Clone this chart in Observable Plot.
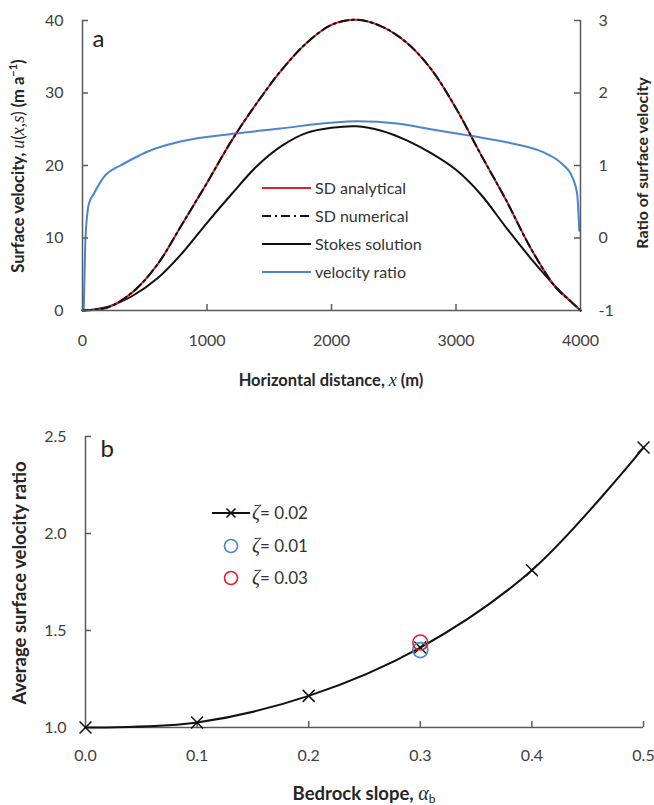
<!DOCTYPE html>
<html><head><meta charset="utf-8">
<script src="https://cdn.jsdelivr.net/npm/d3@7"></script>
<script src="https://cdn.jsdelivr.net/npm/@observablehq/plot@0.6"></script>
<style>
body{margin:0;background:#fff;font-family:Lato,sans-serif}
#wrap{width:654px;height:805px;overflow:hidden}
svg{display:block}
</style></head><body><div id="wrap"></div>
<script>
// ---- Panel a data ----
const distX = [0, 200, 400, 600, 800, 1000, 1200, 1400, 1600, 1800, 2000, 2200, 2400, 2600, 2800, 3000, 3200, 3400, 3600, 3800, 3900, 4000];
const sdU    = [0, 0.4, 2.5, 6.3, 11.9, 17.6, 23.5, 28.6, 33.2, 36.9, 39.4, 40.1, 39.2, 37.0, 33.3, 27.9, 21.5, 15.3, 8.6, 3.2, 1.6, 0];
const sdNumU = [0, 0.4, 2.5, 6.3, 11.9, 17.6, 23.5, 28.6, 33.2, 36.9, 39.4, 40.1, 39.2, 37.0, 33.3, 27.9, 21.5, 15.3, 8.6, 3.2, 1.6, 0];
const stokesU = [0, 0.5, 2.0, 4.4, 7.9, 12.1, 16.1, 19.9, 22.7, 24.5, 25.2, 25.4, 24.8, 23.5, 21.7, 19.4, 16.0, 11.5, 7.2, 3.3, 1.6, 0];
const ratioX = [10, 18, 24, 51, 91, 171, 305, 412, 519, 787, 1229, 1590, 1992, 2206, 2527, 2795, 3116, 3464, 3705, 3812, 3866, 3920, 3973, 3990];
const ratioR = [-1, -0.4, 0.0, 0.47, 0.61, 0.84, 1.0, 1.1, 1.19, 1.33, 1.44, 1.51, 1.59, 1.61, 1.58, 1.50, 1.41, 1.30, 1.18, 1.08, 1.0, 0.89, 0.61, 0.10];
const xTicksA = [0, 1000, 2000, 3000, 4000];
const uTicks = [0, 10, 20, 30, 40];
const ratioTicks = [-1, 0, 1, 2, 3];
const legendA = ["SD analytical", "SD numerical", "Stokes solution", "velocity ratio"];

// ---- Panel b data ----
const slopeB = [0.0, 0.1, 0.2, 0.3, 0.4, 0.5];
const avgRatio = [1.0, 1.026, 1.163, 1.412, 1.811, 2.443];
const otherSlope = [0.3, 0.3];
const otherRatio = [1.399, 1.438];
const otherZeta = ["0.01", "0.03"];
const mainZeta = "0.02";
const xTicksB = [0, 0.1, 0.2, 0.3, 0.4, 0.5];
const yTicksB = [1.0, 1.5, 2.0, 2.5];

const RED = "#e3202a", BLUE = "#4a86d0", INK = "#111", AX = "#5a5a5a", TXT = "#404040";
const toU = r => (r + 1) * 10; // ratio axis mapped onto velocity axis

const sd = distX.map((x, i) => ({x, u: sdU[i]}));
const sdNum = distX.map((x, i) => ({x, u: sdNumU[i]}));
const stokes = distX.map((x, i) => ({x, u: stokesU[i]}));
const ratio = ratioX.map((x, i) => ({x, r: ratioR[i]}));

const W = 654;
const A = {h: 400, l: 82, r: 74, t: 20, b: 90};
const pwA = W - A.l - A.r, phA = A.h - A.t - A.b;

const styleBase = {fontFamily: "Lato, sans-serif", fontSize: "16px", color: TXT, background: "transparent", overflow: "visible"};

const plotA = Plot.plot({
  width: W, height: A.h, marginLeft: A.l, marginRight: A.r, marginTop: A.t, marginBottom: A.b,
  style: styleBase,
  x: {domain: [0, 4000]}, y: {domain: [0, 40]},
  marks: [
    Plot.line(ratio, {x: "x", y: d => toU(d.r), stroke: BLUE, strokeWidth: 2, curve: "monotone-x"}),
    Plot.line(stokes, {x: "x", y: "u", stroke: INK, strokeWidth: 2, curve: "catmull-rom"}),
    Plot.line(sd, {x: "x", y: "u", stroke: RED, strokeWidth: 2, curve: "catmull-rom"}),
    Plot.line(sdNum, {x: "x", y: "u", stroke: INK, strokeWidth: 2, strokeDasharray: "9,4,2,4", curve: "catmull-rom"}),
    Plot.ruleX([0, 4000], {stroke: AX, strokeWidth: 1.5}),
    Plot.ruleY([0], {stroke: AX, strokeWidth: 1.5}),
    Plot.tickX(xTicksA.slice(1, -1), {x: d => d, insetTop: phA - 6, stroke: AX, strokeWidth: 1.5}),
    Plot.tickY(uTicks.slice(1), {y: d => d, insetRight: pwA - 6, stroke: AX, strokeWidth: 1.5}),
    Plot.tickY(ratioTicks.slice(1).map(toU), {y: d => d, insetLeft: pwA - 6, stroke: AX, strokeWidth: 1.5}),
    Plot.axisX({ticks: xTicksA, tickFormat: d => String(d), tickSize: 0, tickPadding: 24, label: null, fill: TXT}),
    Plot.axisY({ticks: uTicks, tickFormat: d => String(d), tickSize: 0, tickPadding: 19, label: null, fill: TXT}),
    Plot.axisY({anchor: "right", ticks: ratioTicks.map(toU), tickFormat: v => String(Math.round(v / 10 - 1)), tickSize: 0, tickPadding: 18, label: null, fill: TXT}),
    Plot.text(["a"], {frameAnchor: "top-left", text: d => d, dx: 10, dy: 9, lineAnchor: "top", fontSize: 24, fill: "#222"})
  ]
});

const B = {h: 405, l: 85, r: 11, t: 36, b: 78};
const pwB = W - B.l - B.r, phB = B.h - B.t - B.b;
const avg = slopeB.map((s, i) => ({s, v: avgRatio[i]}));
const others = otherSlope.map((s, i) => ({s, v: otherRatio[i], z: otherZeta[i]}));

const plotB = Plot.plot({
  width: W, height: B.h, marginLeft: B.l, marginRight: B.r, marginTop: B.t, marginBottom: B.b,
  style: styleBase,
  x: {domain: [0, 0.5]}, y: {domain: [1, 2.5]},
  color: {domain: otherZeta, range: [BLUE, RED]},
  marks: [
    Plot.ruleX([0], {stroke: AX, strokeWidth: 1.5}),
    Plot.ruleY([1], {stroke: AX, strokeWidth: 1.5}),
    Plot.tickX(xTicksB.slice(1), {x: d => d, insetTop: phB - 6, stroke: AX, strokeWidth: 1.5}),
    Plot.tickY(yTicksB.slice(1), {y: d => d, insetRight: pwB - 6, stroke: AX, strokeWidth: 1.5}),
    Plot.axisX({ticks: xTicksB, tickFormat: d3.format(".1f"), tickSize: 0, tickPadding: 22, label: null, fill: TXT}),
    Plot.axisY({ticks: yTicksB, tickFormat: d3.format(".1f"), tickSize: 0, tickPadding: 19, label: null, fill: TXT}),
    Plot.line(avg, {x: "s", y: "v", stroke: INK, strokeWidth: 2, curve: "catmull-rom"}),
    Plot.dot(avg, {x: "s", y: "v", symbol: "times", r: 5.5, stroke: INK, strokeWidth: 1.5}),
    Plot.dot(others, {x: "s", y: "v", r: 7.5, stroke: "z", strokeWidth: 1.6, fill: "none"}),
    Plot.text(["b"], {frameAnchor: "top-left", text: d => d, dx: 15, dy: 3, lineAnchor: "top", fontSize: 24, fill: "#222"})
  ]
});

const wrap = document.getElementById("wrap");
wrap.appendChild(plotA);
wrap.appendChild(plotB);

const SERIF = "'Liberation Serif', 'DejaVu Serif', serif";
const italic = (sel, txt, size) => sel.append("tspan").attr("font-family", SERIF).attr("font-style", "italic")
  .attr("font-weight", "normal").attr("font-size", size).text(txt);

// ---- titles & legend for panel a ----
const st = d3.select(plotA);
const xt = st.append("text").attr("x", A.l + pwA / 2).attr("y", 386).attr("text-anchor", "middle")
  .attr("font-weight", "bold").attr("font-size", 16.5).attr("fill", "#262626");
xt.append("tspan").text("Horizontal distance, ");
italic(xt, "x", 18);
xt.append("tspan").text(" (m)");

const yl = st.append("text").attr("transform", "translate(24,166) rotate(-90)").attr("text-anchor", "middle")
  .attr("font-weight", "bold").attr("font-size", 16.5).attr("fill", "#262626");
yl.append("tspan").text("Surface velocity, ");
italic(yl, "u", 18);
yl.append("tspan").attr("font-weight", "normal").text("(");
italic(yl, "x,s", 18);
yl.append("tspan").attr("font-weight", "normal").text(")");
yl.append("tspan").text(" (m a");
yl.append("tspan").attr("dy", -7).attr("font-size", 11).text("−1");
yl.append("tspan").attr("dy", 7).text(")");

st.append("text").attr("transform", "translate(648,163) rotate(-90)").attr("text-anchor", "middle")
  .attr("font-weight", "bold").attr("font-size", 16).attr("fill", "#262626").text("Ratio of surface velocity");

const legY = [188, 216, 244, 272];
const legStyles = [
  {stroke: RED, dash: null},
  {stroke: INK, dash: "9,4,2,4"},
  {stroke: INK, dash: null},
  {stroke: BLUE, dash: null}
];
legendA.forEach((lab, i) => {
  const g = st.append("g");
  g.append("line").attr("x1", 262).attr("x2", 311).attr("y1", legY[i]).attr("y2", legY[i])
    .attr("stroke", legStyles[i].stroke).attr("stroke-width", 2).attr("stroke-dasharray", legStyles[i].dash);
  g.append("text").attr("x", 315).attr("y", legY[i]).attr("dy", "0.35em").attr("text-anchor", "start")
    .attr("font-size", 16).attr("fill", "#333").text(lab);
});

// ---- titles & legend for panel b ----
const sb = d3.select(plotB);
const bx = sb.append("text").attr("x", B.l + pwB / 2).attr("y", 400).attr("text-anchor", "middle")
  .attr("font-weight", "bold").attr("font-size", 18.5).attr("fill", "#262626");
bx.append("tspan").text("Bedrock slope, ");
italic(bx, "α", 20);
bx.append("tspan").attr("dy", 3).attr("font-size", 12).attr("font-weight", "normal").text("b");

sb.append("text").attr("transform", "translate(26,183) rotate(-90)").attr("text-anchor", "middle")
  .attr("font-weight", "bold").attr("font-size", 18.5).attr("fill", "#262626").text("Average surface velocity ratio");

const legB = [
  {y: 113, kind: "line", z: mainZeta, color: INK},
  {y: 146, kind: "circle", z: otherZeta[0], color: BLUE},
  {y: 178, kind: "circle", z: otherZeta[1], color: RED}
];
const cx = 231;
legB.forEach(d => {
  const g = sb.append("g");
  if (d.kind === "line") {
    g.append("line").attr("x1", 212).attr("x2", 250).attr("y1", d.y).attr("y2", d.y).attr("stroke", INK).attr("stroke-width", 2);
    g.append("path").attr("d", `M${cx - 4.5},${d.y - 4.5}L${cx + 4.5},${d.y + 4.5}M${cx - 4.5},${d.y + 4.5}L${cx + 4.5},${d.y - 4.5}`)
      .attr("stroke", INK).attr("stroke-width", 1.6);
  } else {
    g.append("circle").attr("cx", cx).attr("cy", d.y).attr("r", 6.5).attr("fill", "none").attr("stroke", d.color).attr("stroke-width", 1.6);
  }
  const t = g.append("text").attr("x", 252).attr("y", d.y).attr("dy", "0.35em").attr("text-anchor", "start")
    .attr("font-size", 17).attr("fill", "#333");
  italic(t, "ζ", 20);
  t.append("tspan").text("= " + d.z);
});
</script></body></html>
